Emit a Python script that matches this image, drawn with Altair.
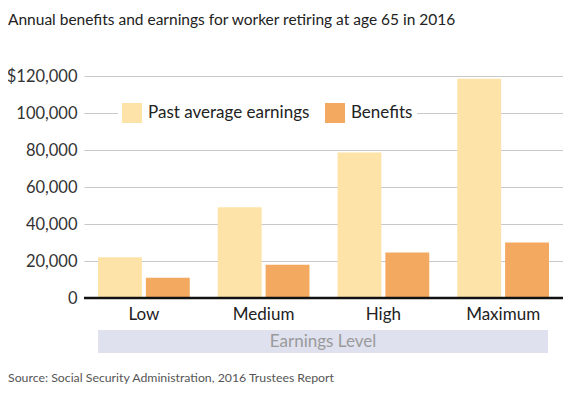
import altair as alt
import pandas as pd

categories = ["Low", "Medium", "High", "Maximum"]
earnings = [22000, 49000, 78600, 118500]
benefits = [11000, 18000, 24600, 30000]
series_names = ["Past average earnings", "Benefits"]
colors = ["#fde3a8", "#f3a95f"]
y_ticks = [0, 20000, 40000, 60000, 80000, 100000, 120000]

rows = []
for c, e, b in zip(categories, earnings, benefits):
    rows.append({"level": c, "series": series_names[0], "value": e})
    rows.append({"level": c, "series": series_names[1], "value": b})
df = pd.DataFrame(rows)

FONT = "Lato"

y_axis = alt.Axis(title=None, values=y_ticks, ticks=False, domain=False,
                  labelFontSize=16.5, labelFont=FONT, labelColor="#333",
                  labelPadding=7, labelOverlap=False, labelBound=False,
                  gridColor="#c8c8c8", gridWidth=1.2,
                  labelExpr="datum.value == 120000 ? '$120,000' : format(datum.value, ',')")
y_scale = alt.Scale(domain=[0, 120000], nice=False)

bars = alt.Chart(df).mark_bar().encode(
    x=alt.X("level:N", sort=categories,
            scale=alt.Scale(paddingInner=0.234, paddingOuter=0.117),
            axis=alt.Axis(title=None, ticks=False, domain=False, labelAngle=0,
                          labelFontSize=17, labelFont=FONT, labelColor="#222",
                          labelPadding=8)),
    xOffset=alt.XOffset("series:N", sort=series_names,
                        scale=alt.Scale(paddingInner=0.083, paddingOuter=0)),
    y=alt.Y("value:Q", scale=y_scale, axis=y_axis),
    color=alt.Color("series:N", sort=series_names,
                    scale=alt.Scale(domain=series_names, range=colors),
                    legend=alt.Legend(title=None, orient="none", legendX=34, legendY=23,
                                      direction="horizontal", fillColor="white",
                                      padding=4, symbolType="square", symbolSize=400,
                                      symbolStrokeWidth=0, symbolOpacity=1,
                                      labelFontSize=17, labelFont=FONT, labelColor="#222",
                                      labelLimit=400,
                                      columnPadding=15, labelOffset=6)),
)

baseline = alt.Chart(pd.DataFrame({"value": [0]})).mark_rule(color="#111", strokeWidth=2.5).encode(
    y=alt.Y("value:Q", scale=y_scale, axis=y_axis)
)

band = alt.Chart(pd.DataFrame({"a": [0]})).mark_rect(color="#dfe1ee").encode(
    x=alt.value(14), x2=alt.value(464), y=alt.value(254), y2=alt.value(277)
)
band_text = alt.Chart(pd.DataFrame({"t": ["Earnings Level"]})).mark_text(
    font=FONT, fontSize=17, color="#9a9a9a", align="center", baseline="middle"
).encode(x=alt.value(239), y=alt.value(266), text="t:N")

title = alt.Chart(pd.DataFrame({"t": ["Annual benefits and earnings for worker retiring at age 65 in 2016"]})).mark_text(
    font=FONT, fontSize=15.5, color="#222", align="left", baseline="middle"
).encode(x=alt.value(-76), y=alt.value(-56), text="t:N")

source = alt.Chart(pd.DataFrame({"t": ["Source: Social Security Administration, 2016 Trustees Report"]})).mark_text(
    font=FONT, fontSize=12.3, color="#555", align="left", baseline="middle"
).encode(x=alt.value(-76), y=alt.value(302), text="t:N")

chart = alt.layer(bars, baseline, band, band_text, title, source).properties(
    width=479, height=222,
    autosize=alt.AutoSizeParams(type="none"),
    padding={"left": 76, "top": 68, "right": 0, "bottom": 95},
    background="white",
).configure_view(stroke=None)

chart.save("out.html", embed_options={"renderer": "svg", "actions": False})
